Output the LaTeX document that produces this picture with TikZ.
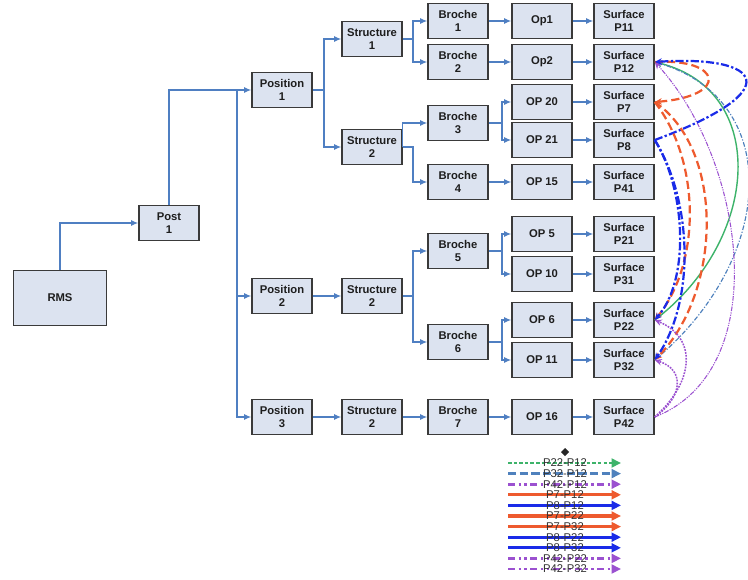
\documentclass[tikz,border=0pt]{standalone}
\usepackage{fontspec}
\setmainfont{Liberation Sans}
\usetikzlibrary{arrows.meta,shapes.geometric}
\definecolor{boxfill}{HTML}{DCE3F0}
\definecolor{boxline}{HTML}{3A3A3A}
\definecolor{boxink}{HTML}{1E1E1E}
\definecolor{treeblue}{HTML}{4F7FC2}
\definecolor{relgreen}{HTML}{3DB36A}
\definecolor{relsteel}{HTML}{4F81BD}
\definecolor{relpurple}{HTML}{9B51D0}
\definecolor{relred}{HTML}{EE5A2E}
\definecolor{relblue}{HTML}{1A2BE8}
\tikzset{
  unitbox/.style={draw=boxline, fill=boxfill, line width=1.3pt, text=boxink,
    font=\fontsize{9.6}{11.2}\selectfont\bfseries, align=center, inner sep=0pt,
    minimum width=1.8cm, minimum height=1.05cm},
  rootbox/.style={unitbox, minimum width=2.79cm, minimum height=1.65cm},
  treeline/.style={draw=treeblue, line width=1pt},
  treelink/.style={treeline, -{Latex[length=6pt,width=5pt]}},
  reltip/.style={-{Stealth[length=6pt,width=5.5pt]}},
  relgreenline/.style={reltip, draw=relgreen, line width=1.2pt},
  relsteelline/.style={reltip, draw=relsteel, line width=1pt,
    dash pattern=on 4pt off 1.5pt on 1pt off 1.5pt},
  relpurpleline/.style={reltip, draw=relpurple, line width=.9pt,
    dash pattern=on 4pt off 1pt on 1pt off 1pt on 1pt off 1pt},
  relpurpledot/.style={reltip, draw=relpurple, line width=1.3pt,
    dash pattern=on 1.5pt off 1pt},
  relredline/.style={reltip, draw=relred, line width=1.9pt,
    dash pattern=on 7pt off 3.5pt},
  relblueline/.style={reltip, draw=relblue, line width=1.9pt,
    dash pattern=on 7pt off 2pt on 2pt off 2pt},
  legtip/.style={-{Triangle[length=8pt,width=7.5pt]}},
  leggreen/.style={legtip, draw=relgreen, line width=2.3pt, dash pattern=on 3pt off 1.8pt},
  legsteel/.style={legtip, draw=relsteel, line width=2.5pt, dash pattern=on 7pt off 3pt},
  legpurple/.style={legtip, draw=relpurple, line width=2.5pt,
    dash pattern=on 6pt off 3pt on 2pt off 3pt on 2pt off 3pt},
  legred/.style={legtip, draw=relred, line width=2.8pt},
  legblue/.style={legtip, draw=relblue, line width=2.8pt},
  legtext/.style={font=\fontsize{9.6}{9.6}\selectfont, text=black!80, inner sep=0pt}
}
\begin{document}
\begin{tikzpicture}[x=0.03cm,y=-0.03cm]
  \useasboundingbox (0,0) rectangle (748,579);

  % process tree
  \node[rootbox] (rms) at (60,298) {RMS};
  \node[unitbox] (post) at (169,223) {Post\\1};
  \node[unitbox] (pos1) at (282,90) {Position\\1};
  \node[unitbox] (pos2) at (282,296) {Position\\2};
  \node[unitbox] (pos3) at (282,417) {Position\\3};

  \node[unitbox] (st1) at (372,39) {Structure\\1};
  \node[unitbox] (st2) at (372,147) {Structure\\2};
  \node[unitbox] (st2b) at (372,296) {Structure\\2};
  \node[unitbox] (st2c) at (372,417) {Structure\\2};

  \node[unitbox] (br1) at (458,21) {Broche\\1};
  \node[unitbox] (br2) at (458,62) {Broche\\2};
  \node[unitbox] (br3) at (458,123) {Broche\\3};
  \node[unitbox] (br4) at (458,182) {Broche\\4};
  \node[unitbox] (br5) at (458,251) {Broche\\5};
  \node[unitbox] (br6) at (458,342) {Broche\\6};
  \node[unitbox] (br7) at (458,417) {Broche\\7};

  \node[unitbox] (op1) at (542,21) {Op1};
  \node[unitbox] (op2) at (542,62) {Op2};
  \node[unitbox] (op20) at (542,102) {OP 20};
  \node[unitbox] (op21) at (542,140) {OP 21};
  \node[unitbox] (op15) at (542,182) {OP 15};
  \node[unitbox] (op5) at (542,234) {OP 5};
  \node[unitbox] (op10) at (542,274) {OP 10};
  \node[unitbox] (op6) at (542,320) {OP 6};
  \node[unitbox] (op11) at (542,360) {OP 11};
  \node[unitbox] (op16) at (542,417) {OP 16};

  \node[unitbox] (p11) at (624,21) {Surface\\P11};
  \node[unitbox] (p12) at (624,62) {Surface\\P12};
  \node[unitbox] (p7) at (624,102) {Surface\\P7};
  \node[unitbox] (p8) at (624,140) {Surface\\P8};
  \node[unitbox] (p41) at (624,182) {Surface\\P41};
  \node[unitbox] (p21) at (624,234) {Surface\\P21};
  \node[unitbox] (p31) at (624,274) {Surface\\P31};
  \node[unitbox] (p22) at (624,320) {Surface\\P22};
  \node[unitbox] (p32) at (624,360) {Surface\\P32};
  \node[unitbox] (p42) at (624,417) {Surface\\P42};

  \coordinate (trunk) at (237,90);
  \coordinate (sp1) at (324,90);
  \coordinate (sp2) at (413,39);
  \coordinate (sp3) at (413,147);
  \coordinate (sp4) at (413,296);
  \coordinate (sp5) at (502,123);
  \coordinate (sp6) at (502,251);
  \coordinate (sp7) at (502,342);

  \draw[treelink] (rms.north) |- (post.west);
  \draw[treelink] (post.north) |- (pos1.west);
  \draw[treelink] (trunk) |- (pos2.west);
  \draw[treelink] (trunk) |- (pos3.west);
  \draw[treeline] (pos1.east) -- (sp1);
  \draw[treelink] (sp1) |- (st1.west);
  \draw[treelink] (sp1) |- (st2.west);
  \draw[treelink] (pos2) -- (st2b);
  \draw[treelink] (pos3) -- (st2c);
  \draw[treeline] (st1.east) -- (sp2);
  \draw[treelink] (sp2) |- (br1.west);
  \draw[treelink] (sp2) |- (br2.west);
  \draw[treelink] (st2.east) |- (br3.west);
  \draw[treelink] (st2.east) -- (sp3) |- (br4.west);
  \draw[treeline] (st2b.east) -- (sp4);
  \draw[treelink] (sp4) |- (br5.west);
  \draw[treelink] (sp4) |- (br6.west);
  \draw[treelink] (st2c) -- (br7);
  \draw[treelink] (br1) -- (op1);
  \draw[treelink] (br2) -- (op2);
  \draw[treeline] (br3.east) -- (sp5);
  \draw[treelink] (sp5) |- (op20.west);
  \draw[treelink] (sp5) |- (op21.west);
  \draw[treelink] (br4) -- (op15);
  \draw[treeline] (br5.east) -- (sp6);
  \draw[treelink] (sp6) |- (op5.west);
  \draw[treelink] (sp6) |- (op10.west);
  \draw[treeline] (br6.east) -- (sp7);
  \draw[treelink] (sp7) |- (op6.west);
  \draw[treelink] (sp7) |- (op11.west);
  \draw[treelink] (br7) -- (op16);
  \foreach \o/\s in {op1/p11,op2/p12,op20/p7,op21/p8,op15/p41,op5/p21,op10/p31,op6/p22,op11/p32,op16/p42}
    \draw[treelink] (\o) -- (\s);

  % surface relations
  \draw[relgreenline] (p22.east) .. controls (760,240) and (770,90) .. (p12.east);
  \draw[relsteelline] (p32.east) .. controls (775,260) and (785,100) .. (p12.east);
  \draw[relpurpleline] (p42.east) .. controls (775,370) and (745,160) .. (p12.east);
  \draw[relredline] (p12.east) .. controls (722,58) and (730,96) .. (p7.east);
  \draw[relblueline] (p8.east) .. controls (790,90) and (762,55) .. (p12.east);
  \draw[relredline] (p7.east) .. controls (700,160) and (702,262) .. (p22.east);
  \draw[relredline] (p7.east) .. controls (725,150) and (722,292) .. (p32.east);
  \draw[relblueline] (p8.east) .. controls (686,190) and (690,280) .. (p22.east);
  \draw[relblueline] (p8.east) .. controls (692,200) and (696,300) .. (p32.east);
  \draw[relpurpledot] (p42.east) .. controls (694,382) and (698,338) .. (p22.east);
  \draw[relpurpledot] (p42.east) .. controls (682,398) and (686,370) .. (p32.east);

  % legend
  \node[diamond, fill=black!85, inner sep=0pt, minimum size=7pt] (legmark) at (565,452) {};
  \foreach \i/\lab/\sty in {0/P22-P12/leggreen,1/P32-P12/legsteel,2/P42-P12/legpurple,
      3/P7-P12/legred,4/P8-P12/legblue,5/P7-P22/legred,6/P7-P32/legred,
      7/P8-P22/legblue,8/P8-P32/legblue,9/P42-P22/legpurple,10/P42-P32/legpurple} {
    \coordinate (legl\i) at (508,463+10.6*\i);
    \coordinate (legr\i) at (621,463+10.6*\i);
    \draw[\sty] (legl\i) -- (legr\i);
    \node[legtext] (leg\i) at (565,463+10.6*\i) {\lab};
  }
\end{tikzpicture}
\end{document}
